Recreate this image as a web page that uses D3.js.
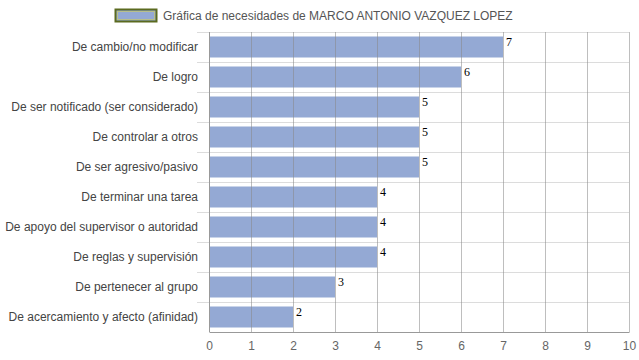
<!DOCTYPE html>
<html><head><meta charset="utf-8">
<script src="https://cdn.jsdelivr.net/npm/d3@7"></script>
<style>body{margin:0;background:#fff}svg{display:block}</style>
</head><body><svg id="c" width="639" height="360"></svg>
<script>
const categories = ["De cambio/no modificar","De logro","De ser notificado (ser considerado)","De controlar a otros","De ser agresivo/pasivo","De terminar una tarea","De apoyo del supervisor o autoridad","De reglas y supervisión","De pertenecer al grupo","De acercamiento y afecto (afinidad)"];
const values = [7,6,5,5,5,4,4,4,3,2];
const ticks = [0,1,2,3,4,5,6,7,8,9,10];
const seriesName = "Gráfica de necesidades de MARCO ANTONIO VAZQUEZ LOPEZ";

const svg = d3.select("#c");
const L = 209, R = 629, T = 32, B = 332;
const x = d3.scaleLinear().domain([0,10]).range([L,R]);
const y = d3.scaleBand().domain(categories).range([T,B]).paddingInner(0.3).paddingOuter(0.15);
const rowH = (B-T)/categories.length;

// horizontal grid lines
svg.append("g").selectAll("line").data(d3.range(categories.length))
  .join("line").attr("x1",L-12).attr("x2",R).attr("y1",i=>T+i*rowH+0.5).attr("y2",i=>T+i*rowH+0.5)
  .attr("stroke","#dcdcdc");

// bars
svg.append("g").selectAll("rect").data(values).join("rect")
  .attr("x",x(0)).attr("y",(d,i)=>y(categories[i])).attr("width",d=>x(d)-x(0)).attr("height",y.bandwidth())
  .attr("fill","#94a9d4");

// vertical grid lines (over bars)
svg.append("g").selectAll("line").data(ticks.slice(1)).join("line")
  .attr("x1",d=>Math.round(x(d))+0.5).attr("x2",d=>Math.round(x(d))+0.5).attr("y1",T).attr("y2",B)
  .attr("stroke","#888").attr("stroke-opacity",0.55);

// y axis line
svg.append("line").attr("x1",L+0.5).attr("x2",L+0.5).attr("y1",T).attr("y2",B).attr("stroke","#999");
// x axis
const xa = svg.append("g").attr("transform",`translate(0,${B})`)
  .call(d3.axisBottom(x).tickValues(ticks).tickSize(0).tickPadding(9).tickFormat(d3.format("d")));
xa.select(".domain").attr("stroke","#999");
xa.selectAll("text").attr("font-family","Arial, Liberation Sans, sans-serif").attr("font-size",12).attr("fill","#666");

// category labels
svg.append("g").selectAll("text").data(categories).join("text")
  .attr("x",198).attr("y",d=>y(d)+y.bandwidth()/2).attr("dy","0.35em").attr("text-anchor","end")
  .attr("font-family","Arial, Liberation Sans, sans-serif").attr("font-size",12).attr("fill","#444").text(d=>d);

// value labels
svg.append("g").selectAll("text").data(values).join("text")
  .attr("x",d=>x(d)+3).attr("y",(d,i)=>y(categories[i])+9)
  .attr("font-family","Times New Roman, Liberation Serif, serif").attr("font-size",12).attr("fill","#000").text(d=>d);

// legend
const lg = svg.append("g");
lg.append("rect").attr("x",115.5).attr("y",9.5).attr("width",41).attr("height",12).attr("fill","#94a9d4").attr("stroke","#5b6a1f").attr("stroke-width",2);
lg.append("rect").attr("x",117.5).attr("y",11.5).attr("width",37).attr("height",8).attr("fill","none").attr("stroke","#b8bf8a").attr("stroke-width",1);
lg.append("text").attr("x",163).attr("y",15.5).attr("dy","0.35em")
  .attr("font-family","Arial, Liberation Sans, sans-serif").attr("font-size",12).attr("fill","#555").text(seriesName);
</script></body></html>
